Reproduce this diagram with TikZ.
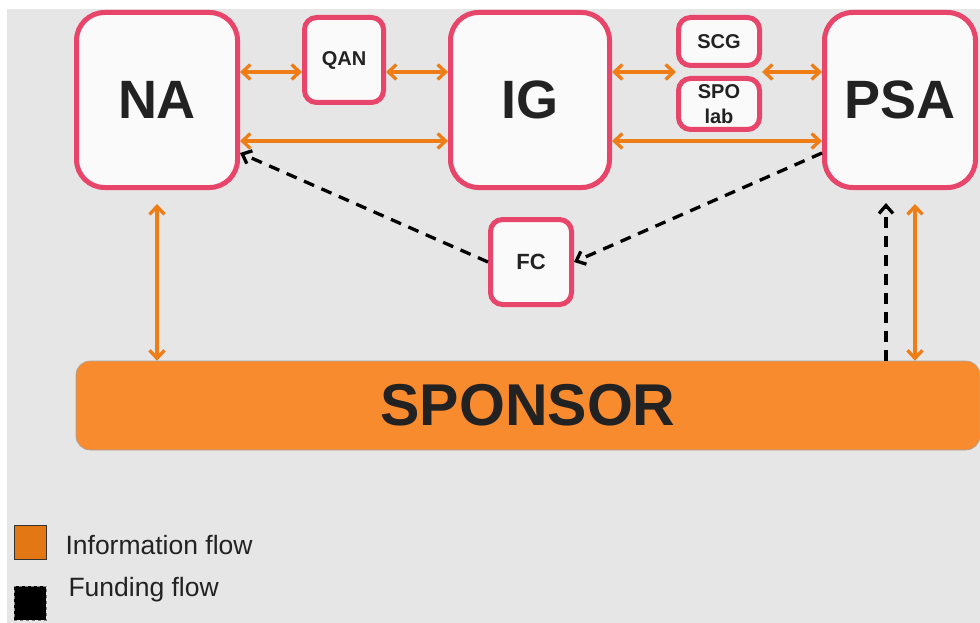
\documentclass[tikz,border=0pt]{standalone}
\usepackage{fontspec}
\setmainfont{Liberation Sans}
\usetikzlibrary{arrows.meta}

\definecolor{bgGray}{HTML}{E6E6E6}
\definecolor{boxEdge}{HTML}{E8456A}
\definecolor{boxFill}{HTML}{FAFAFA}
\definecolor{infoOrange}{HTML}{EE7D15}
\definecolor{sponsorFill}{HTML}{F98B2F}
\definecolor{inkDark}{HTML}{222222}

\tikzset{
  entity/.style={draw=boxEdge, line width=5pt, fill=boxFill, rounded corners=28pt,
    inner sep=0pt, text=inkDark, font=\bfseries\fontsize{54}{60}\selectfont},
  minor/.style={draw=boxEdge, line width=5pt, fill=boxFill, rounded corners=12pt,
    inner sep=0pt, text=inkDark, align=center, font=\bfseries\fontsize{20}{25}\selectfont},
  infoarrow/.style={draw=infoOrange, line width=3.3pt,
    {Straight Barb[length=8pt,width=15pt]}-{Straight Barb[length=8pt,width=15pt]}},
  fundarrow/.style={draw=black, line width=3.3pt, dash pattern=on 11pt off 8pt,
    -{Straight Barb[length=8pt,width=14pt]}},
}

\begin{document}
\begin{tikzpicture}[x=1pt,y=-1pt]
  \useasboundingbox (0,0) rectangle (980,623);
  \fill[bgGray] (7,9) rectangle (980,623);

  % main entities
  \node[entity, minimum width=161pt, minimum height=175pt] (NA)  at (157,100) {NA};
  \node[entity, minimum width=159pt, minimum height=175pt] (IG)  at (530,100) {IG};
  \node[entity, minimum width=151pt, minimum height=175pt] (PSA) at (900,100) {PSA};

  % smaller bodies
  \node[minor, minimum width=79pt, minimum height=85pt] (QAN) at (344,60) {QAN};
  \node[minor, minimum width=81pt, minimum height=48pt] (SCG) at (719,41.5) {SCG};
  \node[minor, minimum width=81pt, minimum height=51pt] (SPO) at (719,104) {SPO\\lab};
  \node[minor, minimum width=81pt, minimum height=85pt, font=\bfseries\fontsize{22}{26}\selectfont] (FC) at (531,262) {FC};

  % sponsor bar
  \node[draw=gray!70, line width=0.6pt, fill=sponsorFill, rounded corners=14pt,
        minimum width=904pt, minimum height=89pt, inner sep=0pt, text=inkDark,
        font=\bfseries\fontsize{59}{64}\selectfont] (SPONSOR) at (528,405.5) {SPONSOR};

  % reference rows and columns for the connectors
  \coordinate (rowTop) at (0,72);
  \coordinate (rowLow) at (0,141);
  \coordinate (colFund) at (886,0);
  \coordinate (colInfo) at (915,0);

  % information flow
  \draw[infoarrow] (NA.east |- rowTop) -- (QAN.west |- rowTop);
  \draw[infoarrow] (QAN.east |- rowTop) -- (IG.west |- rowTop);
  \draw[infoarrow] (NA.east |- rowLow) -- (IG.west |- rowLow);
  \draw[infoarrow] (IG.east |- rowTop) -- (SCG.west |- rowTop);
  \draw[infoarrow] (SCG.east |- rowTop) -- (PSA.west |- rowTop);
  \draw[infoarrow] (IG.east |- rowLow) -- (PSA.west |- rowLow);
  \draw[infoarrow, shorten <=14pt] (NA.south) -- (NA.south |- SPONSOR.north);
  \draw[infoarrow, shorten <=14pt] (colInfo |- PSA.south) -- (colInfo |- SPONSOR.north);

  % funding flow
  \draw[fundarrow] (FC.west) -- ([yshift=-53pt]NA.east);
  \draw[fundarrow] ([yshift=-53pt]PSA.west) -- (FC.east);
  \draw[fundarrow, shorten >=13pt] (colFund |- SPONSOR.north) -- (colFund |- PSA.south);

  % legend
  \node[draw=black!80, line width=0.8pt, fill=infoOrange!95!black, minimum width=32pt,
        minimum height=34pt, inner sep=0pt] (keyInfo) at (30,542.5) {};
  \node[anchor=west, text=inkDark, font=\fontsize{26.5}{30}\selectfont] (txtInfo)
        at (62,545) {Information flow};
  \node[draw=gray, dashed, line width=0.8pt, fill=black, minimum width=32pt,
        minimum height=34pt, inner sep=0pt] (keyFund) at (30,603) {};
  \node[anchor=west, text=inkDark, font=\fontsize{26.5}{30}\selectfont] (txtFund)
        at (65,590) {Funding flow};
\end{tikzpicture}
\end{document}
